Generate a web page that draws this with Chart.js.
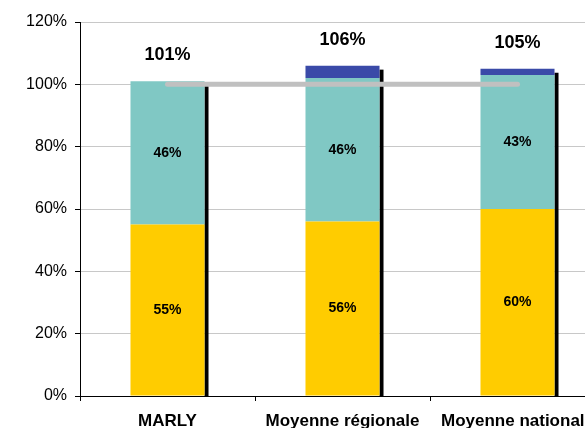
<!DOCTYPE html>
<html>
<head>
<meta charset="utf-8">
<script src="https://cdn.jsdelivr.net/npm/chart.js@4/dist/chart.umd.min.js"></script>
<style>
  html, body { margin: 0; padding: 0; background: #fff; overflow: hidden; }
  #wrap { width: 620px; height: 428px; }
</style>
</head>
<body>
<div id="wrap"><canvas id="chart"></canvas></div>
<script>
// Categories and stacked shares (%)
const categories = ['MARLY', 'Moyenne régionale', 'Moyenne nationale'];
const yellowValues = [55, 56, 60];
const tealValues = [46, 46, 43];
const blueValues = [0, 4, 2];
const totals = [101, 106, 105];
const refLine = [100, 100, 100];

const FONT = 'Arial, "Liberation Sans", sans-serif';

// Black drop shadow on the right side of each stacked column
const shadowPlugin = {
    id: 'barShadow',
    beforeDatasetsDraw(chart) {
        const ctx = chart.ctx;
        const base = chart.scales.y.getPixelForValue(0);
        categories.forEach((c, i) => {
            let top = Infinity, right = 0;
            [0, 1, 2].forEach(d => {
                const el = chart.getDatasetMeta(d).data[i];
                if (!el) return;
                const p = el.getProps(['x', 'y', 'width'], true);
                top = Math.min(top, p.y);
                right = Math.max(right, p.x + p.width / 2);
            });
            ctx.save();
            ctx.fillStyle = '#000';
            ctx.fillRect(right, top + 4, 4, base - top - 4);
            ctx.restore();
        });
    }
};

// Segment values inside the bars and totals above them
const labelPlugin = {
    id: 'barLabels',
    afterDatasetsDraw(chart) {
        const ctx = chart.ctx;
        ctx.save();
        ctx.fillStyle = '#000';
        ctx.textAlign = 'center';
        ctx.textBaseline = 'middle';
        ctx.font = 'bold 14px ' + FONT;
        [0, 1].forEach(d => {
            chart.getDatasetMeta(d).data.forEach((el, i) => {
                const p = el.getProps(['x', 'y', 'base'], true);
                const v = chart.data.datasets[d].data[i];
                ctx.fillText(v + '%', p.x, (p.y + p.base) / 2);
            });
        });
        ctx.font = 'bold 18px ' + FONT;
        const y = chart.scales.y;
        totals.forEach((t, i) => {
            const el = chart.getDatasetMeta(0).data[i];
            ctx.fillText(t + '%', el.x, y.getPixelForValue(t) - 26);
        });
        ctx.restore();
    }
};

new Chart(document.getElementById('chart'), {
    data: {
        labels: categories,
        datasets: [
            { type: 'bar', data: yellowValues, backgroundColor: '#FFCC00', stack: 's', order: 2 },
            { type: 'bar', data: tealValues, backgroundColor: '#80C8C4', stack: 's', order: 2 },
            { type: 'bar', data: blueValues, backgroundColor: '#3A4AA8', stack: 's', order: 2 },
            {
                type: 'line', data: refLine, stack: 'ref', order: 0,
                borderColor: '#C0C0C0', borderWidth: 5, borderCapStyle: 'round',
                pointRadius: 0, fill: false
            }
        ]
    },
    options: {
        responsive: true,
        maintainAspectRatio: false,
        animation: false,
        datasets: { bar: { categoryPercentage: 1, barPercentage: 0.423 } },
        layout: { padding: { top: 22, right: 15, left: 0, bottom: 0 } },
        plugins: { legend: { display: false }, tooltip: { enabled: false } },
        scales: {
            x: {
                stacked: true,
                grid: { drawOnChartArea: false, offset: true, tickLength: 5, tickColor: '#000' },
                border: { color: '#000', width: 1 },
                ticks: { color: '#000', font: { family: FONT, size: 17, weight: 'bold' }, padding: 10, maxRotation: 0, autoSkip: false },
                afterFit(scale) { scale.height = 32; }
            },
            y: {
                stacked: true,
                min: 0, max: 120,
                grid: { color: '#C8C8C8', tickLength: 5, tickColor: '#000' },
                border: { color: '#000', width: 1 },
                ticks: { stepSize: 20, color: '#000', font: { family: FONT, size: 16 }, padding: 8, callback: v => v + '%' },
                afterFit(scale) { scale.width = 80; }
            }
        }
    },
    plugins: [shadowPlugin, labelPlugin]
});
</script>
</body>
</html>
